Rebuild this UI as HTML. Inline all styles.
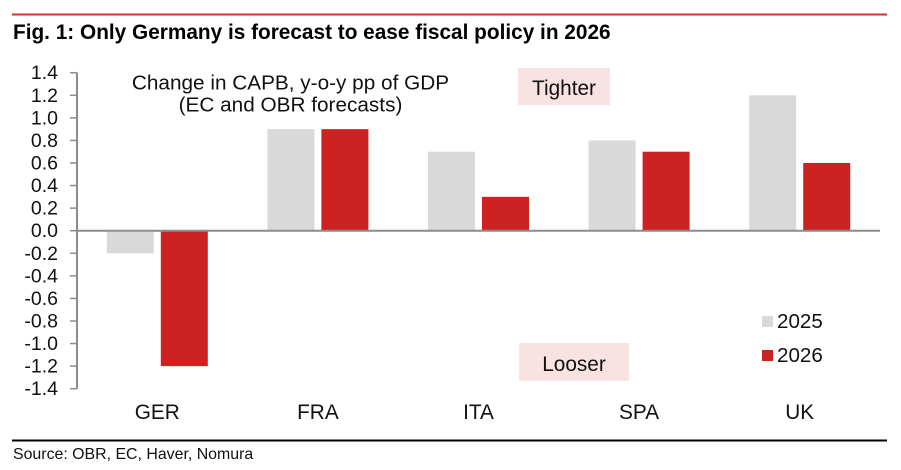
<!DOCTYPE html>
<html lang="en">
<head>
<meta charset="utf-8">
<title>Fig. 1</title>
<style>
html,body{margin:0;padding:0;background:#fff;}
svg{display:block;font-family:"Liberation Sans",Arial,sans-serif;}
</style>
</head>
<body>
<svg id="chart" xmlns="http://www.w3.org/2000/svg" width="901" height="470" viewBox="0 0 901 470">
  <rect x="0" y="0" width="901" height="470" fill="#fff"/>
  <rect x="12" y="13.5" width="875" height="2" fill="#d9302c"/>
  <text x="13" y="39" font-size="20.8" font-weight="700" fill="#000">Fig. 1: Only Germany is forecast to ease fiscal policy in 2026</text>
  <rect x="518" y="68" width="92" height="37" fill="#f8e3e2"/>
  <text x="564" y="95" font-size="20.8" text-anchor="middle" fill="#111">Tighter</text>
  <rect x="519" y="343" width="110" height="38" fill="#f8e3e2"/>
  <text x="574" y="371" font-size="20.8" text-anchor="middle" fill="#111">Looser</text>
  <text x="290.5" y="89.5" font-size="20.75" text-anchor="middle" fill="#111">Change in CAPB, y-o-y pp of GDP</text>
  <text x="290.5" y="111.5" font-size="20.75" text-anchor="middle" fill="#111">(EC and OBR forecasts)</text>
  <g id="plot"></g>
  <rect x="762" y="316" width="11" height="11" fill="#d9d9d9"/>
  <text x="777" y="328" font-size="20.6" fill="#111">2025</text>
  <rect x="762" y="350" width="11" height="11" fill="#cc2222"/>
  <text x="777" y="362" font-size="20.6" fill="#111">2026</text>
  <rect x="12" y="439.5" width="875" height="2" fill="#000"/>
  <text x="13" y="459" font-size="15.9" fill="#111">Source: OBR, EC, Haver, Nomura</text>
</svg>
<script>
const categories = ['GER', 'FRA', 'ITA', 'SPA', 'UK'];
const values2025 = [-0.2, 0.9, 0.7, 0.8, 1.2];
const values2026 = [-1.2, 0.9, 0.3, 0.7, 0.6];
const tickLabels = ['1.4', '1.2', '1.0', '0.8', '0.6', '0.4', '0.2', '0.0', '-0.2', '-0.4', '-0.6', '-0.8', '-1.0', '-1.2', '-1.4'];

const NS = 'http://www.w3.org/2000/svg';
const plot = document.getElementById('plot');
const axisLeft = 77, axisRight = 880, axisTop = 72.7, axisBottom = 388.7;
const yMin = -1.4, yMax = 1.4;
const barWidth = 47, barGap = 7;

function yScale(v) {
  return axisBottom - (v - yMin) / (yMax - yMin) * (axisBottom - axisTop);
}
function xCenter(i) {
  return axisLeft + (axisRight - axisLeft) * (i + 0.5) / categories.length;
}
function make(tag, attrs, text) {
  const el = document.createElementNS(NS, tag);
  for (const k in attrs) el.setAttribute(k, attrs[k]);
  if (text !== undefined) el.textContent = text;
  plot.appendChild(el);
  return el;
}
function drawBar(x, v, fill, name) {
  const y0 = yScale(0), y1 = yScale(v);
  const el = make('rect', { x: x, y: Math.min(y0, y1), width: barWidth, height: Math.abs(y1 - y0), fill: fill });
  
  
}

categories.forEach(function (c, i) {
  const cx = xCenter(i);
  drawBar(cx - barGap / 2 - barWidth, values2025[i], '#d9d9d9', 'bar-2025-' + c.toLowerCase());
  drawBar(cx + barGap / 2, values2026[i], '#cc2222', 'bar-2026-' + c.toLowerCase());
  const label = make('text', { x: cx, y: 419, 'font-size': 20.8, 'text-anchor': 'middle', fill: '#111' }, c);
  
  
});

const yAxisLine = make('line', { x1: axisLeft, x2: axisLeft, y1: axisTop, y2: axisBottom, stroke: '#8c8c8c', 'stroke-width': 2 });



tickLabels.forEach(function (t) {
  const y = yScale(parseFloat(t));
  const tick = make('line', { x1: 70, x2: axisLeft, y1: y, y2: y, stroke: '#8c8c8c', 'stroke-width': 1.5 });
  
  
  const label = make('text', { x: 58, y: y + 6.5, 'font-size': 19.5, 'text-anchor': 'end', fill: '#111' }, t);
  
  
});

const zeroLine = make('line', { x1: axisLeft, x2: axisRight, y1: yScale(0), y2: yScale(0), stroke: '#8c8c8c', 'stroke-width': 2 });


</script>
</body>
</html>
